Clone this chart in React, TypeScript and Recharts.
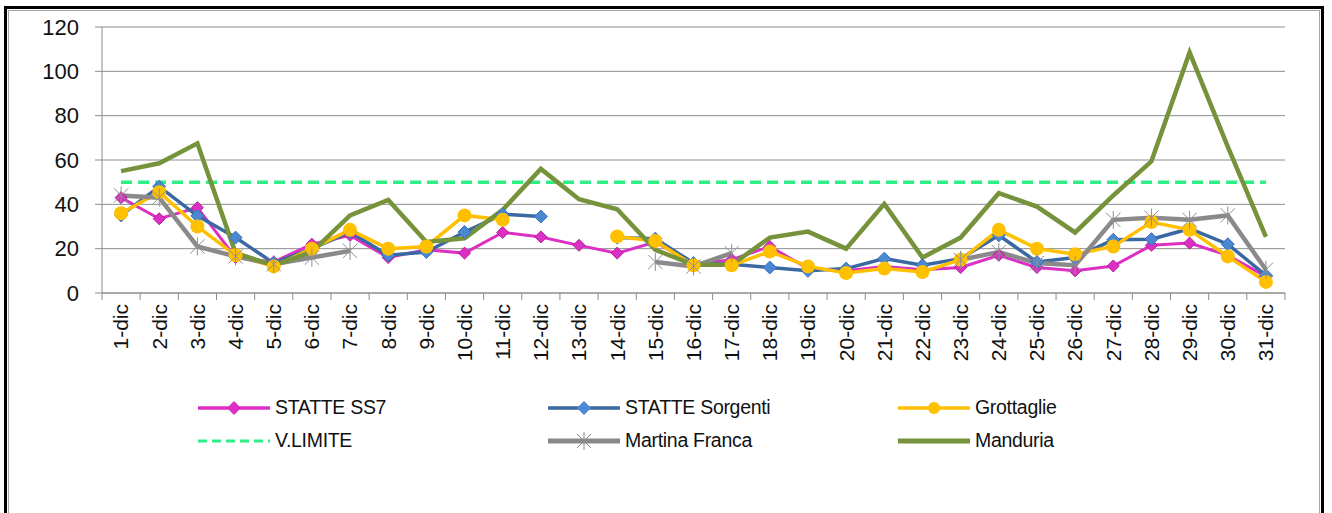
import { CartesianGrid, Line, LineChart, XAxis, YAxis } from "recharts";

const days = [
  "1-dic", "2-dic", "3-dic", "4-dic", "5-dic", "6-dic", "7-dic", "8-dic",
  "9-dic", "10-dic", "11-dic", "12-dic", "13-dic", "14-dic", "15-dic", "16-dic",
  "17-dic", "18-dic", "19-dic", "20-dic", "21-dic", "22-dic", "23-dic", "24-dic",
  "25-dic", "26-dic", "27-dic", "28-dic", "29-dic", "30-dic", "31-dic",
];

const statteSS7 = [
  43, 33.5, 38.5, 16, 14, 22, 26, 16, 19.5, 18, 27.3, 25.3, 21.5, 18, 23, 13,
  15, 21, 11, 10, 12, 10.5, 11.5, 17, 11.5, 10, 12.2, 21.5, 22.5, 17, 7.5,
];
const statteSorgenti = [
  35, 48, 34.8, 25, 13.5, 20, 27.5, 17, 18.5, 27.5, 35.5, 34.5, null, 25, 24.5, 13.5,
  13, 11.5, 10, 11, 15.5, 12.5, 15.5, 26, 14, 16, 24, 24.3, 29, 22, 8,
];
const grottaglie = [
  36, 45.5, 30, 17, 12, 20, 28.5, 20, 21, 35, 33, null, null, 25.5, 23.5, 12.5,
  12.5, 18.7, 12, 9, 11, 9.5, 15, 28.5, 20, 17.5, 21, 32, 28.5, 16.5, 5,
];
const vLimite = [
  50, 50, 50, 50, 50, 50, 50, 50, 50, 50, 50, 50, 50, 50, 50, 50,
  50, 50, 50, 50, 50, 50, 50, 50, 50, 50, 50, 50, 50, 50, 50,
];
const martinaFranca = [
  44, 43, 21, 16.5, 13, 16, 19, null, null, null, null, null, null, null, 14, 12,
  18, null, null, null, null, null, 15, 18.5, 13.5, 12.5, 33, 34, 33, 35, 10.5,
];
const manduria = [
  55, 58.5, 67.5, 18, 12.5, 18.5, 35, 42, 23, 24.7, 37.5, 56, 42.3, 37.8, 19.5, 12.7,
  12.7, 25, 27.7, 20, 40.2, 16, 25, 45, 39, 27.3, 44, 59.4, 108.5, 66, 25.3,
];
const yTicks = [0, 20, 40, 60, 80, 100, 120];

const data = days.map((day, i) => ({
  day,
  ss7: statteSS7[i],
  sorgenti: statteSorgenti[i],
  grottaglie: grottaglie[i],
  limite: vLimite[i],
  martina: martinaFranca[i],
  manduria: manduria[i],
}));

const FONT = '"Liberation Sans", Arial, sans-serif';
const W = 1332;
const H = 513;
const MARGIN = { top: 27, right: 47, bottom: 40, left: 22 };
const Y_AXIS_W = 80;
const PLOT_LEFT = MARGIN.left + Y_AXIS_W;
const PLOT_RIGHT = W - MARGIN.right;
const AXIS_Y = 293;
const HALF_STEP = (PLOT_RIGHT - PLOT_LEFT) / days.length / 2;

const C = {
  ss7: "#dc2fc4",
  sorgentiLine: "#3a68a2",
  sorgentiDot: "#4a88d2",
  grottaglie: "#ffc000",
  limite: "#2cef86",
  martina: "#8a8a8a",
  manduria: "#76933c",
  grid: "#8c8c8c",
  text: "#111",
};

const diamond = (fill: string, stroke: string, r: number) => (p: any) => {
  if (p.value == null || p.cy == null) return null;
  const { cx, cy } = p;
  return (
    <polygon
      key={`d-${p.index}`}
      points={`${cx},${cy - r} ${cx + r},${cy} ${cx},${cy + r} ${cx - r},${cy}`}
      fill={fill}
      stroke={stroke}
      strokeWidth={1}
    />
  );
};

const circle = (fill: string, r: number) => (p: any) => {
  if (p.value == null || p.cy == null) return null;
  return <circle key={`c-${p.index}`} cx={p.cx} cy={p.cy} r={r} fill={fill} />;
};

const star = (stroke: string, r: number) => (p: any) => {
  if (p.value == null || p.cy == null) return null;
  const { cx, cy } = p;
  const d = r * 0.8;
  return (
    <g key={`s-${p.index}`} stroke={stroke} strokeWidth={1}>
      <line x1={cx} y1={cy - r} x2={cx} y2={cy + r} />
      <line x1={cx - d} y1={cy - d} x2={cx + d} y2={cy + d} />
      <line x1={cx - d} y1={cy + d} x2={cx + d} y2={cy - d} />
    </g>
  );
};

const XTick = (p: any) => {
  const { x, payload, index } = p;
  const last = index === days.length - 1;
  return (
    <g>
      <line x1={x - HALF_STEP} y1={AXIS_Y} x2={x - HALF_STEP} y2={AXIS_Y + 7} stroke={C.grid} />
      {last && (
        <line x1={x + HALF_STEP} y1={AXIS_Y} x2={x + HALF_STEP} y2={AXIS_Y + 7} stroke={C.grid} />
      )}
      <text
        transform={`translate(${x},${AXIS_Y + 11}) rotate(-90)`}
        textAnchor="end"
        dy="0.35em"
        fontSize={21}
        fontFamily={FONT}
        fill={C.text}
      >
        {payload.value}
      </text>
    </g>
  );
};

const legendItems = [
  { label: "STATTE SS7", kind: "diamond", color: C.ss7, dot: C.ss7 },
  { label: "STATTE Sorgenti", kind: "diamond", color: C.sorgentiLine, dot: C.sorgentiDot },
  { label: "Grottaglie", kind: "circle", color: C.grottaglie, dot: C.grottaglie },
  { label: "V.LIMITE", kind: "dash", color: C.limite, dot: C.limite },
  { label: "Martina Franca", kind: "star", color: C.martina, dot: C.martina },
  { label: "Manduria", kind: "plain", color: C.manduria, dot: C.manduria },
];

function Swatch({ kind, color, dot }: { kind: string; color: string; dot: string }) {
  return (
    <svg width={72} height={20} style={{ display: "block" }}>
      {kind === "dash" ? (
        <line x1={0} y1={10} x2={72} y2={10} stroke={color} strokeWidth={3} strokeDasharray="9 5" />
      ) : (
        <line x1={0} y1={10} x2={72} y2={10} stroke={color} strokeWidth={kind === "plain" || kind === "star" ? 5 : 3.5} />
      )}
      {kind === "diamond" && <polygon points="36,3 43,10 36,17 29,10" fill={dot} />}
      {kind === "circle" && <circle cx={36} cy={10} r={6} fill={dot} />}
      {kind === "star" && (
        <g stroke={dot} strokeWidth={1}>
          <line x1={36} y1={1} x2={36} y2={19} />
          <line x1={29} y1={3} x2={43} y2={17} />
          <line x1={29} y1={17} x2={43} y2={3} />
        </g>
      )}
    </svg>
  );
}

export default function App() {
  return (
    <div style={{ position: "absolute", left: 0, top: 0, width: W, height: H, overflow: "hidden", background: "#fff" }}>
      <div
        style={{
          position: "absolute",
          left: 4,
          top: 6,
          width: 1320,
          height: 530,
          border: "3px solid #000",
          boxSizing: "border-box",
        }}
      >
        <div style={{ position: "absolute", inset: 1, border: "1px solid #a6a6a6" }} />
      </div>
      <div style={{ position: "absolute", left: 0, top: 0 }}>
        <LineChart width={W} height={H} data={data} margin={MARGIN}>
          <CartesianGrid stroke={C.grid} vertical={false} />
          <XAxis
            dataKey="day"
            interval={0}
            height={180}
            padding={{ left: HALF_STEP, right: HALF_STEP }}
            tickLine={false}
            stroke={C.grid}
            tick={<XTick />}
          />
          <YAxis
            width={Y_AXIS_W}
            domain={[0, 120]}
            ticks={yTicks}
            tickSize={7}
            tickMargin={16}
            stroke={C.grid}
            tick={{ fontSize: 22, fontFamily: FONT, fill: C.text }}
          />
          <Line dataKey="ss7" stroke={C.ss7} strokeWidth={3} dot={diamond(C.ss7, "#b0209a", 6)} isAnimationActive={false} />
          <Line dataKey="sorgenti" stroke={C.sorgentiLine} strokeWidth={3.5} dot={diamond(C.sorgentiDot, "#3a70b8", 6.5)} isAnimationActive={false} />
          <Line dataKey="grottaglie" stroke={C.grottaglie} strokeWidth={3.5} dot={circle(C.grottaglie, 7)} isAnimationActive={false} />
          <Line dataKey="limite" stroke={C.limite} strokeWidth={3.5} strokeDasharray="11 6" dot={false} isAnimationActive={false} />
          <Line dataKey="martina" stroke={C.martina} strokeWidth={4.5} dot={star("#8f8f8f", 9)} isAnimationActive={false} />
          <Line dataKey="manduria" stroke={C.manduria} strokeWidth={4.5} dot={false} isAnimationActive={false} />
        </LineChart>
      </div>
      {legendItems.map((it, i) => (
        <div
          key={it.label}
          style={{
            position: "absolute",
            left: 198 + (i % 3) * 350,
            top: 396 + Math.floor(i / 3) * 33,
            display: "flex",
            alignItems: "center",
            gap: 5,
            fontFamily: FONT,
            fontSize: 19.5,
            letterSpacing: -0.3,
            color: C.text,
            whiteSpace: "nowrap",
          }}
        >
          <Swatch kind={it.kind} color={it.color} dot={it.dot} />
          <span>{it.label}</span>
        </div>
      ))}
    </div>
  );
}
